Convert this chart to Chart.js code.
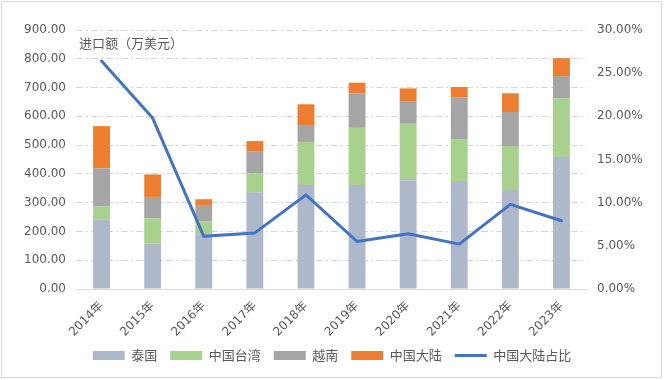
<!DOCTYPE html>
<html>
<head>
<meta charset="utf-8">
<script src="https://cdn.jsdelivr.net/npm/chart.js@4"></script>
<style>
html,body{margin:0;padding:0;background:#fff;}
#wrap{width:664px;height:380px;position:relative;}
</style>
</head>
<body>
<div id="wrap"><canvas id="c" width="664" height="380"></canvas></div>
<script>
const categories = ['2014年','2015年','2016年','2017年','2018年','2019年','2020年','2021年','2022年','2023年'];
const thailand  = [242, 157, 190, 335, 361, 361, 378, 375, 344, 459];
const taiwan    = [ 46,  89,  46,  67, 150, 199, 196, 144, 153, 204];
const vietnam   = [131,  74,  56,  77,  59, 119,  79, 146, 118,  77];
const mainland  = [147,  78,  20,  35,  72,  38,  44,  37,  65,  62];
const mainlandShare = [26.4, 19.8, 6.1, 6.5, 10.9, 5.5, 6.4, 5.2, 9.8, 7.9];
const leftTicks = {min: 0, max: 900, step: 100};
const rightTicks = {min: 0, max: 30, step: 5};
const seriesNames = ['泰国','中国台湾','越南','中国大陆','中国大陆占比'];
const unitLabel = '进口额（万美元）';

const txt = '#595959';
const tickFont = {family: 'DejaVu Sans, "Noto Sans CJK SC"', size: 12};
const cjkFont = {family: '"Noto Sans CJK SC", "DejaVu Sans"', size: 13};

const extras = {
  id: 'extras',
  afterDraw(chart) {
    const ctx = chart.ctx;
    ctx.save();
    ctx.strokeStyle = '#D9D9D9';
    ctx.lineWidth = 1;
    ctx.strokeRect(1.5, 1.5, 660, 376);
    ctx.fillStyle = txt;
    ctx.font = '13px "Noto Sans CJK SC"';
    ctx.textBaseline = 'middle';
    ctx.textAlign = 'left';
    ctx.fillText(unitLabel, chart.chartArea.left + 3, 43);
    ctx.restore();
  }
};

const barCommon = {type: 'bar', barPercentage: 0.33, categoryPercentage: 1, pointStyle: 'rect', yAxisID: 'y', order: 1, borderWidth: 0};

new Chart(document.getElementById('c'), {
  data: {
    labels: categories,
    datasets: [
      Object.assign({label: seriesNames[0], data: thailand, backgroundColor: '#ADB9CA'}, barCommon),
      Object.assign({label: seriesNames[1], data: taiwan, backgroundColor: '#A9D18E'}, barCommon),
      Object.assign({label: seriesNames[2], data: vietnam, backgroundColor: '#A5A5A5'}, barCommon),
      Object.assign({label: seriesNames[3], data: mainland, backgroundColor: '#ED7D31'}, barCommon),
      {type: 'line', label: seriesNames[4], data: mainlandShare, yAxisID: 'y1', borderColor: '#4472C4', backgroundColor: '#4472C4',
       borderWidth: 3, pointRadius: 0, pointHoverRadius: 0, pointStyle: 'line', tension: 0, order: 0, borderJoinStyle: 'round', borderCapStyle: 'round'}
    ]
  },
  options: {
    responsive: false,
    animation: false,
    layout: {padding: {top: 30, left: 0, right: 0, bottom: 8}},
    plugins: {
      legend: {
        position: 'bottom',
        labels: {
          usePointStyle: true, pointStyleWidth: 32, boxHeight: 9,
          color: txt, font: cjkFont, padding: 13,
          sort: (a, b) => a.datasetIndex - b.datasetIndex
        }
      },
      tooltip: {enabled: false}
    },
    scales: {
      x: {
        stacked: true,
        grid: {display: false},
        border: {display: true, color: '#D9D9D9', width: 1},
        ticks: {color: txt, font: tickFont, minRotation: 45, maxRotation: 45, padding: 2},
        afterFit(s) { s.height = 47; }
      },
      y: {
        stacked: true, position: 'left',
        min: leftTicks.min, max: leftTicks.max,
        grid: {color: '#CFD8E6', lineWidth: 1, drawTicks: false},
        border: {display: false, dash: [7, 3, 2, 3]},
        ticks: {stepSize: leftTicks.step, color: txt, font: tickFont, padding: 10, callback: v => v.toFixed(2)},
        afterFit(s) { s.width = 76; }
      },
      y1: {
        position: 'right',
        min: rightTicks.min, max: rightTicks.max,
        grid: {display: false, drawTicks: false},
        border: {display: false},
        ticks: {stepSize: rightTicks.step, color: txt, font: tickFont, padding: 10, callback: v => v.toFixed(2) + '%'},
        afterFit(s) { s.width = 77; }
      }
    }
  },
  plugins: [extras]
});
</script>
</body>
</html>
